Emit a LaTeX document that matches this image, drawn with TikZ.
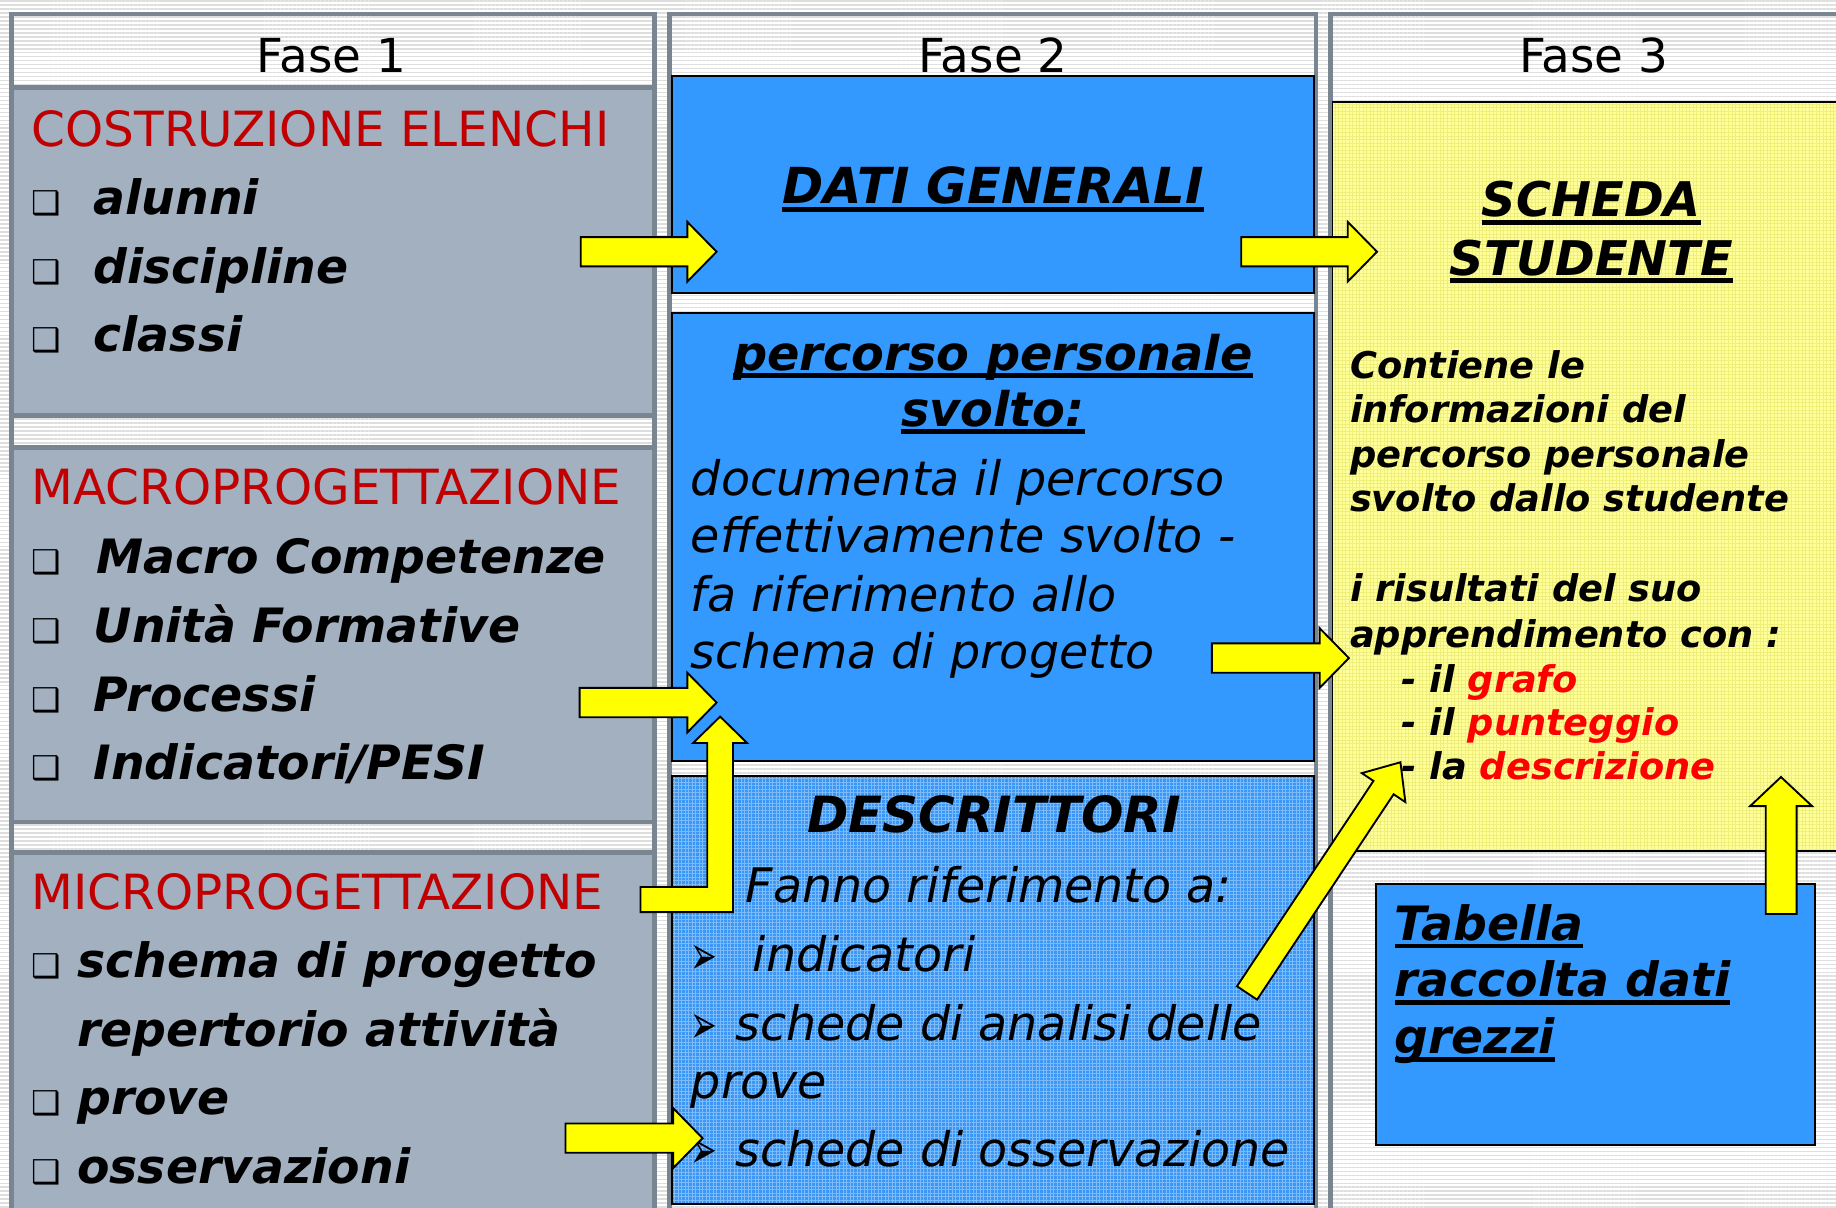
\documentclass[tikz,border=0pt]{standalone}
\usepackage{fontspec}
\setmainfont{DejaVu Sans}
\usetikzlibrary{patterns.meta}
\definecolor{frameg}{RGB}{122,133,146}
\definecolor{boxg}{RGB}{162,176,192}
\definecolor{bblue}{RGB}{51,153,255}
\definecolor{dblue}{RGB}{60,150,245}
\definecolor{gridb}{RGB}{125,188,250}
\definecolor{pyellow}{RGB}{255,255,155}
\definecolor{gridy}{RGB}{238,238,120}
\definecolor{ared}{RGB}{192,0,0}
\definecolor{bred}{RGB}{255,0,0}
\definecolor{ayellow}{RGB}{255,255,0}
\definecolor{stripe}{RGB}{222,222,222}
\newcommand\ulnode[1]{\draw[line width=2.1pt] ([yshift=-2.45pt]#1.base west) -- ([yshift=-2.45pt]#1.base east);}
\newcommand\arrbullet{\scalebox{1.05}[1.8]{➢}}
\tikzset{
  x=0.5pt, y=-0.5pt,
  tw/.style={inner sep=0pt, outer sep=0pt, anchor=base west},
  tcn/.style={inner sep=0pt, outer sep=0pt, anchor=base},
  hd/.style={tcn, font=\fontsize{20}{24}\selectfont},
  rh/.style={tw, text=ared, font=\fontsize{20.7}{24}\selectfont},
  bi/.style={tw, font=\fontsize{20.2}{24}\selectfont\bfseries\itshape},
  bic/.style={tcn, font=\fontsize{20.4}{24}\selectfont\bfseries\itshape},
  ri/.style={tw, font=\fontsize{20.3}{24}\selectfont\itshape},
  sb/.style={tw, font=\fontsize{15.7}{19}\selectfont\bfseries\itshape},
  bx/.style={tw, font=\fontsize{14}{16}\selectfont},
  ar/.style={tw, font=\fontsize{13}{16}\selectfont},
  framebox/.style={draw=frameg, line width=2pt},
  graybox/.style={fill=boxg, draw=frameg, line width=2pt},
  bluebox/.style={fill=bblue, draw=black, line width=0.8pt},
  arr/.style={fill=ayellow, draw=black, line width=0.8pt, line join=miter},
}
\begin{document}
\begin{tikzpicture}
\useasboundingbox (0,0) rectangle (1568,1031);
\clip (0,0) rectangle (1568,1031);
% background stripes
\fill[white] (0,0) rectangle (1568,1031);
\fill[pattern={Lines[angle=0,distance=1.7pt,line width=0.7pt]}, pattern color=stripe] (0,0) rectangle (1568,1031);

% column frames
\draw[framebox] (10,12) rectangle (559,1045);
\draw[framebox] (572,12) rectangle (1124,1045);
\draw[framebox] (1136,12) rectangle (1600,1045);

% column 1 gray boxes
\draw[graybox] (10,75) rectangle (559,355);
\draw[graybox] (10,382) rectangle (559,702);
\draw[graybox] (10,728) rectangle (559,1045);

% column 2 boxes
\draw[bluebox] (574,65) rectangle (1122,250);
\draw[bluebox] (574,267) rectangle (1122,650);
\fill[dblue] (574,663) rectangle (1122,1028);
\fill[pattern={Hatch[angle=0,distance=1.5pt,line width=0.35pt]}, pattern color=gridb] (574,663) rectangle (1122,1028);
\draw[black, line width=0.8pt] (574,663) rectangle (1122,1028);

% column 3 boxes
\fill[pyellow] (1138,87) rectangle (1600,727);
\fill[pattern={Hatch[angle=0,distance=1.5pt,line width=0.25pt]}, pattern color=gridy] (1138,87) rectangle (1600,727);
\draw[black, line width=0.8pt] (1138,87) rectangle (1600,727);
\draw[bluebox] (1175,755) rectangle (1550,978);

% headers
\node[hd] (f1) at (283,62) {Fase 1};
\node[hd] (f2) at (848,62) {Fase 2};
\node[hd] (f3) at (1361,62) {Fase 3};

% column 1 texts
\node[rh] (h1) at (27,125) {COSTRUZIONE ELENCHI};
\node[bx] (q1) at (27,183) {❑}; \node[bi] (i1) at (80,183) {alunni};
\node[bx] (q2) at (27,242) {❑}; \node[bi] (i2) at (80,242) {discipline};
\node[bx] (q3) at (27,300) {❑}; \node[bi] (i3) at (80,300) {classi};

\node[rh] (h2) at (27,431) {MACROPROGETTAZIONE};
\node[bx] (q4) at (27,490) {❑}; \node[bi] (i4) at (82,490) {Macro Competenze};
\node[bx] (q5) at (27,549) {❑}; \node[bi] (i5) at (80,549) {Unità Formative};
\node[bx] (q6) at (27,608) {❑}; \node[bi] (i6) at (80,608) {Processi};
\node[bx] (q7) at (27,666) {❑}; \node[bi] (i7) at (80,666) {Indicatori/PESI};

\node[rh] (h3) at (27,777) {MICROPROGETTAZIONE};
\node[bx] (q8) at (27,835) {❑}; \node[bi] (i8) at (66,835) {schema di progetto};
\node[bi] (i9) at (66,894) {repertorio attività};
\node[bx] (q10) at (27,952) {❑}; \node[bi] (i10) at (66,952) {prove};
\node[bx] (q11) at (27,1011) {❑}; \node[bi] (i11) at (66,1011) {osservazioni};

% column 2 texts
\node[bic, font=\fontsize{21.2}{24}\selectfont\bfseries\itshape] (dg) at (848,174) {DATI GENERALI}; \ulnode{dg}
\node[bic] (pp1) at (848,316) {percorso personale}; \ulnode{pp1}
\node[bic] (pp2) at (848,364) {svolto:}; \ulnode{pp2}
\node[ri] (d1) at (590,423) {documenta il percorso};
\node[ri] (d2) at (590,472) {effettivamente svolto -};
\node[ri] (d3) at (590,522) {fa riferimento allo};
\node[ri] (d4) at (590,571) {schema di progetto};
\node[bic, font=\fontsize{21.3}{24}\selectfont\bfseries\itshape] (ds) at (849,711) {DESCRITTORI};
\node[ri] (e1) at (637,771) {Fanno riferimento a:};
\node[ar] (a1) at (590,832) {\arrbullet}; \node[ri] (e2) at (643,830) {indicatori};
\node[ar] (a2) at (590,891) {\arrbullet}; \node[ri] (e3) at (628,889) {schede di analisi delle};
\node[ri] (e4) at (590,938) {prove};
\node[ar] (a3) at (590,998) {\arrbullet}; \node[ri] (e5) at (628,996) {schede di osservazione};

% column 3 texts
\node[bic] (s1) at (1359,185) {SCHEDA}; \ulnode{s1}
\node[bic] (s2) at (1359,235) {STUDENTE}; \ulnode{s2}
\node[sb] (c1) at (1153,323) {Contiene le};
\node[sb] (c2) at (1153,361) {informazioni del};
\node[sb] (c3) at (1153,399) {percorso personale};
\node[sb] (c4) at (1153,437) {svolto dallo studente};
\node[sb] (c5) at (1153,514) {i risultati del suo};
\node[sb] (c6) at (1153,553) {apprendimento con :};
\node[sb] (c7) at (1197,591) {- il \textcolor{bred}{grafo}};
\node[sb] (c8) at (1197,628) {- il \textcolor{bred}{punteggio}};
\node[sb] (c9) at (1197,666) {- la \textcolor{bred}{descrizione}};
\node[bi] (t1) at (1191,803) {Tabella}; \ulnode{t1}
\node[bi] (t2) at (1191,851) {raccolta dati}; \ulnode{t2}
\node[bi] (t3) at (1191,900) {grezzi}; \ulnode{t3}

% arrows
\draw[arr] (496,202.5) -- (587,202.5) -- (587,189.5) -- (612,215) -- (587,240.5) -- (587,227.5) -- (496,227.5) -- cycle;
\draw[arr] (1060,202.5) -- (1151,202.5) -- (1151,189.5) -- (1176,215) -- (1151,240.5) -- (1151,227.5) -- (1060,227.5) -- cycle;
\draw[arr] (495,587.5) -- (587,587.5) -- (587,574.5) -- (612,600) -- (587,625.5) -- (587,612.5) -- (495,612.5) -- cycle;
\draw[arr] (1035,549.5) -- (1127,549.5) -- (1127,536.5) -- (1152,562) -- (1127,587.5) -- (1127,574.5) -- (1035,574.5) -- cycle;
\draw[arr] (483,959.5) -- (575,959.5) -- (575,946.5) -- (600,972) -- (575,997.5) -- (575,984.5) -- (483,984.5) -- cycle;
\draw[arr] (547,757.5) -- (604,757.5) -- (604,634.5) -- (592,634.5) -- (615,612) -- (638,634.5) -- (626,634.5) -- (626,779) -- (547,779) -- cycle;
\draw[arr] (1073.6,853.7) -- (1190.2,678.3) -- (1200.2,685.0) -- (1196,651) -- (1163.0,660.3) -- (1173.0,666.9) -- (1056.4,842.3) -- cycle;
\draw[arr] (1508,780.6) -- (1508,688.5) -- (1494.6,688.5) -- (1521,663.6) -- (1547.6,688.5) -- (1534.4,688.5) -- (1534.4,780.6) -- cycle;
\end{tikzpicture}
\end{document}
